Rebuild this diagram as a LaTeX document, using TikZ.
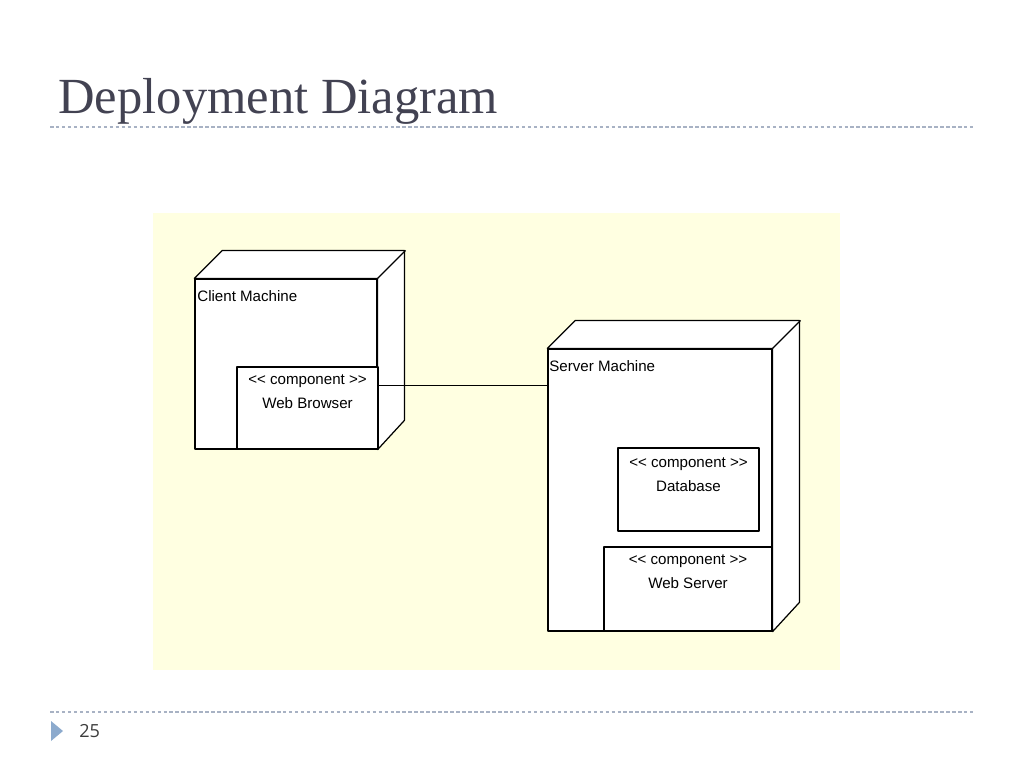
\documentclass[tikz,border=0pt]{standalone}
\usepackage{fontspec}
\setmainfont{Liberation Serif}
\newfontfamily\diagfont{Liberation Sans}
\newfontfamily\numfont{Open Sans}
\usetikzlibrary{calc, positioning}

\definecolor{titlegray}{RGB}{66, 66, 82}
\definecolor{rulegray}{RGB}{168, 178, 196}
\definecolor{paleyellow}{RGB}{255, 255, 225}
\definecolor{bulletblue}{RGB}{140, 170, 205}
\definecolor{numgray}{RGB}{60, 60, 60}

\begin{document}
\begin{tikzpicture}[x=0.02cm, y=-0.02cm,
    boxline/.style={draw=black, line width=0.7pt, fill=white, line join=round},
    frontface/.style={boxline, inner sep=0pt},
    compbox/.style={boxline, inner sep=0pt},
    lbl/.style={font=\diagfont\fontsize{8.6}{10}\selectfont, inner sep=0pt},
    comptext/.style={font=\diagfont\fontsize{8.6}{13.6}\selectfont, align=center, inner sep=0pt},
    rule/.style={rulegray, line width=0.6pt, dash pattern=on 2pt off 1.4pt}]
  \useasboundingbox (0, 0) rectangle (1024, 768);

  % Title and rules
  \node[font=\fontsize{28.8}{30}\selectfont, text=titlegray, anchor=base west, inner sep=0pt] (title) at (58, 113) {Deployment Diagram};
  \draw[rule] (50, 127) -- (973, 127);
  \draw[rule] (50, 712) -- (973, 712);

  % Diagram background
  \fill[paleyellow] (153, 213) rectangle (840, 670);

  % Client machine
  \node[frontface, minimum width=3.64cm, minimum height=3.4cm] (client) at (286, 364) {};
  \draw[boxline] (client.north west) -- ++(28, -28) -- ++(182, 0) -- ++(0, 170) -- (client.south east) -- (client.north east) -- cycle;
  \draw[boxline] (client.north east) -- ++(28, -28);
  \node[lbl, anchor=base west] (clientname) at (197, 301) {Client Machine};

  \node[compbox, minimum width=2.82cm, minimum height=1.64cm] (browser) at (307.5, 408) {};
  \node[comptext, anchor=base] (browsertxt) at ($(browser.north)+(0, 42)$) {<< component >>\\Web Browser};

  % Server machine
  \node[frontface, minimum width=4.48cm, minimum height=5.64cm] (server) at (660, 490) {};
  \draw[boxline] (server.north west) -- ++(28, -28) -- ++(224, 0) -- ++(0, 282) -- (server.south east) -- (server.north east) -- cycle;
  \draw[boxline] (server.north east) -- ++(28, -28);
  \node[lbl, anchor=base west] (servername) at (549, 371) {Server Machine};

  \node[compbox, minimum width=2.82cm, minimum height=1.66cm] (database) at (688.5, 489.5) {};
  \node[comptext, anchor=base] (databasetxt) at ($(database.north)+(0, 44)$) {<< component >>\\Database};

  \node[compbox, minimum width=3.36cm, minimum height=1.68cm] (webserver) at (688, 589) {};
  \node[comptext, anchor=base] (webservertxt) at ($(webserver.north)+(0, 42)$) {<< component >>\\Web Server};

  % Link
  \coordinate (linkstart) at ($(browser.north east)!0.23!(browser.south east)$);
  \draw[line width=0.7pt] (linkstart) -- (linkstart -| server.west);

  % Footer
  \fill[bulletblue] (51, 721) -- (63, 731) -- (51, 741) -- cycle;
  \node[font=\numfont\fontsize{10.3}{12}\selectfont, text=numgray, anchor=base west, inner sep=0pt] (pagenum) at (79, 737) {25};
\end{tikzpicture}
\end{document}
